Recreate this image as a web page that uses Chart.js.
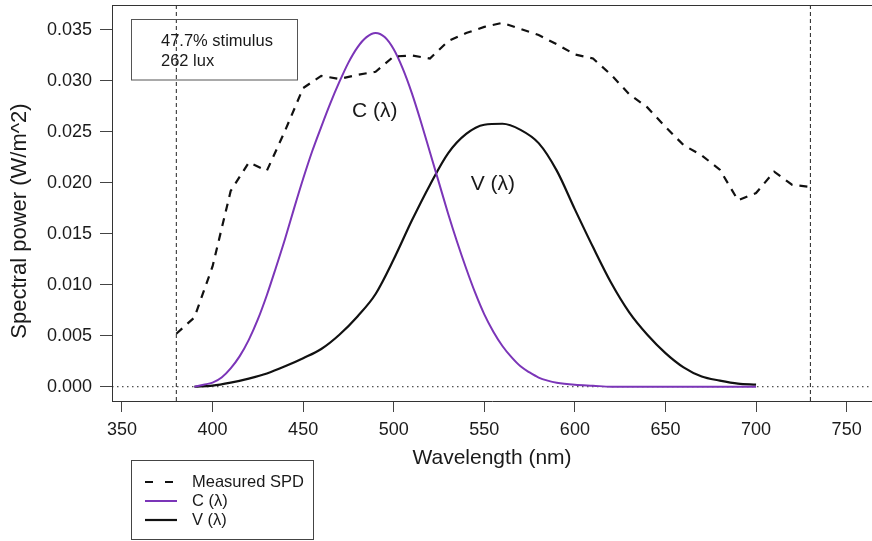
<!DOCTYPE html>
<html>
<head>
<meta charset="utf-8">
<title>Spectral power</title>
<script src="https://cdn.jsdelivr.net/npm/chart.js@4.4.1/dist/chart.umd.min.js"></script>
<style>
  html, body { margin: 0; padding: 0; background: #fff; overflow: hidden; }
  #wrap { width: 872px; height: 541px; }
</style>
</head>
<body>
<div id="wrap"><canvas id="spdChart" width="872" height="541"></canvas></div>
<script>
// measured spectrum, 10 nm steps
const spdWavelengths = [380, 390, 400, 410, 420, 430, 440, 450, 460, 470, 480, 490, 500, 510, 520, 530, 540, 550, 560,
  570, 580, 590, 600, 610, 620, 630, 640, 650, 660, 670, 680, 690, 700, 710, 720, 730];
const spdValues = [0.0052, 0.0068, 0.0118, 0.0192, 0.0220, 0.0212, 0.0251, 0.0293, 0.0305, 0.0302, 0.0306, 0.0309,
  0.0324, 0.0325, 0.0322, 0.0339, 0.0347, 0.0353, 0.0357, 0.0351, 0.0345, 0.0336, 0.0326, 0.0322, 0.0306, 0.0287,
  0.0274, 0.0255, 0.0237, 0.0227, 0.0213, 0.0183, 0.0190, 0.0211, 0.0198, 0.0196];

// C(lambda) weighting, scaled
const cWavelengths = [390, 395, 400, 405, 410, 415, 420, 425, 430, 435, 440, 445, 450, 455, 460, 465, 470, 475, 480,
  485, 490, 495, 500, 505, 510, 515, 520, 525, 530, 535, 540, 545, 550, 555, 560, 565, 570, 575, 580, 585, 590, 600,
  610, 620, 640, 660, 680, 700];
const cValues = [0.0000, 0.0002, 0.0004, 0.0009, 0.0018, 0.0030, 0.0046, 0.0066, 0.0090, 0.0117, 0.0145, 0.0175,
  0.0204, 0.0231, 0.0255, 0.0278, 0.0299, 0.0318, 0.0333, 0.0343, 0.0347, 0.0343, 0.0331, 0.0312, 0.0288, 0.0260,
  0.0230, 0.0200, 0.0170, 0.0142, 0.0116, 0.0092, 0.0071, 0.0054, 0.0040, 0.0029, 0.0020, 0.0014, 0.0009, 0.0006,
  0.0004, 0.0002, 0.0001, 0.0000, 0.0000, 0.0000, 0.0000, 0.0000];

// V(lambda) photopic curve, scaled
const vWavelengths = [390, 400, 410, 420, 430, 440, 450, 460, 470, 480, 490, 500, 510, 520, 530, 540, 550, 560, 570,
  580, 590, 600, 610, 620, 630, 640, 650, 660, 670, 680, 690, 700];
const vValues = [0.0000, 0.0001, 0.0004, 0.0008, 0.0013, 0.0020, 0.0028, 0.0037, 0.0051, 0.0069, 0.0091, 0.0125,
  0.0163, 0.0198, 0.0229, 0.0248, 0.0257, 0.0258, 0.0252, 0.0239, 0.0212, 0.0174, 0.0137, 0.0102, 0.0073, 0.0051,
  0.0033, 0.0019, 0.0010, 0.0006, 0.0003, 0.0002];

const xTicks = [350, 400, 450, 500, 550, 600, 650, 700, 750];
const yTicks = [0, 0.005, 0.010, 0.015, 0.020, 0.025, 0.030, 0.035];
const xRange = [344.5, 764];
const yRange = [-0.0014, 0.03745];
const cutoffLines = [380, 730];
const stimulusNote = ['47.7% stimulus', '262 lux'];
const curveLabels = [
  { text: 'C (\u03bb)', x: 489.5, y: 0.0270 },
  { text: 'V (\u03bb)', x: 554.7, y: 0.0199 }
];
const yTitle = 'Spectral power (W/m^2)';

const FONT = "'Liberation Sans', Arial, Helvetica, sans-serif";
const INK = '#1a1a1a';

const toPoints = (xs, ys) => xs.map((x, i) => ({ x: x, y: ys[i] }));

const datasets = [
  {
    label: 'Measured SPD',
    data: toPoints(spdWavelengths, spdValues),
    borderColor: '#111',
    borderWidth: 2.2,
    borderDash: [8, 7],
    tension: 0,
    inLegend: true,
    legendDash: [8, 12]
  },
  {
    label: 'C (\u03bb)',
    data: toPoints(cWavelengths, cValues),
    borderColor: '#7b35b8',
    borderWidth: 2,
    cubicInterpolationMode: 'monotone',
    inLegend: true
  },
  {
    label: 'V (\u03bb)',
    data: toPoints(vWavelengths, vValues),
    borderColor: '#111',
    borderWidth: 2.2,
    cubicInterpolationMode: 'monotone',
    inLegend: true
  },
  {
    label: 'zero',
    data: [{ x: xRange[0], y: 0 }, { x: xRange[1], y: 0 }],
    borderColor: '#222',
    borderWidth: 1,
    borderDash: [1.5, 3.5]
  }
];
cutoffLines.forEach(w => {
  datasets.push({
    label: 'cutoff ' + w,
    data: [{ x: w, y: yRange[0] }, { x: w, y: yRange[1] }],
    borderColor: '#222',
    borderWidth: 1,
    borderDash: [4, 3]
  });
});

// top edge of the frame, y title, the stimulus note, the curve names and the legend
const decorations = {
  id: 'decorations',
  afterDraw(chart) {
    const { ctx, chartArea } = chart;
    const xs = chart.scales.x, ys = chart.scales.y;
    ctx.save();

    ctx.strokeStyle = '#333';
    ctx.lineWidth = 1;
    ctx.setLineDash([]);
    ctx.beginPath();
    ctx.moveTo(chartArea.left, chartArea.top + 0.5);
    ctx.lineTo(chartArea.right, chartArea.top + 0.5);
    ctx.stroke();

    // y axis title, sits a little below the middle of the frame
    ctx.save();
    ctx.translate(20, 221);
    ctx.rotate(-Math.PI / 2);
    ctx.fillStyle = INK;
    ctx.font = '22px ' + FONT;
    ctx.textAlign = 'center';
    ctx.textBaseline = 'middle';
    ctx.fillText(yTitle, 0, 0);
    ctx.restore();

    // note box
    ctx.strokeStyle = '#555';
    ctx.strokeRect(131.5, 19.5, 166, 60.5);
    ctx.fillStyle = INK;
    ctx.font = '16.5px ' + FONT;
    ctx.textAlign = 'left';
    ctx.textBaseline = 'middle';
    stimulusNote.forEach((line, i) => ctx.fillText(line, 161, 41 + i * 20));

    // curve names
    ctx.font = '21px ' + FONT;
    ctx.textAlign = 'center';
    curveLabels.forEach(l => {
      ctx.fillText(l.text, xs.getPixelForValue(l.x), ys.getPixelForValue(l.y));
    });

    // legend
    const items = chart.data.datasets.filter(d => d.inLegend);
    ctx.strokeStyle = '#444';
    ctx.lineWidth = 1;
    ctx.strokeRect(131.5, 460.5, 182, 79);
    ctx.font = '16.5px ' + FONT;
    ctx.textAlign = 'left';
    items.forEach((d, i) => {
      const y = 482 + i * 19;
      ctx.strokeStyle = d.borderColor;
      ctx.lineWidth = d.borderWidth;
      ctx.setLineDash(d.legendDash || d.borderDash || []);
      ctx.beginPath();
      ctx.moveTo(145, y);
      ctx.lineTo(177, y);
      ctx.stroke();
      ctx.setLineDash([]);
      ctx.fillStyle = INK;
      ctx.fillText(d.label, 192, y);
    });
    ctx.restore();
  }
};

const ctx = document.getElementById('spdChart').getContext('2d');
new Chart(ctx, {
  type: 'line',
  data: { datasets: datasets },
  options: {
    responsive: false,
    animation: false,
    events: [],
    layout: { padding: { top: 5, right: 0, bottom: 70, left: 0 } },
    elements: { point: { radius: 0 }, line: { fill: false } },
    plugins: {
      legend: { display: false },
      tooltip: { enabled: false }
    },
    scales: {
      x: {
        type: 'linear',
        min: xRange[0],
        max: xRange[1],
        afterBuildTicks: scale => { scale.ticks = xTicks.map(v => ({ value: v })); },
        afterFit: scale => {
          scale.height = 70;
          scale.paddingLeft = 0; scale.paddingRight = 0;
        },
        grid: { drawOnChartArea: false, drawTicks: true, tickLength: 11, tickColor: '#444', tickWidth: 1 },
        border: { display: true, color: '#333', width: 1 },
        ticks: {
          padding: 7,
          color: INK,
          font: { family: FONT, size: 18 },
          maxRotation: 0,
          autoSkip: false,
          callback: v => String(v)
        },
        title: {
          display: true,
          text: 'Wavelength (nm)',
          color: INK,
          font: { family: FONT, size: 21 },
          padding: { top: 0, bottom: 0 }
        }
      },
      y: {
        type: 'linear',
        min: yRange[0],
        max: yRange[1],
        afterBuildTicks: scale => { scale.ticks = yTicks.map(v => ({ value: v })); },
        afterFit: scale => {
          scale.width = 112;
          scale.paddingTop = 0; scale.paddingBottom = 0;
        },
        grid: { drawOnChartArea: false, drawTicks: true, tickLength: 12, tickColor: '#444', tickWidth: 1 },
        border: { display: true, color: '#333', width: 1 },
        ticks: {
          padding: 8,
          color: INK,
          font: { family: FONT, size: 18 },
          autoSkip: false,
          callback: v => v.toFixed(3)
        },
        title: { display: false }
      }
    }
  },
  plugins: [decorations]
});
</script>
</body>
</html>
